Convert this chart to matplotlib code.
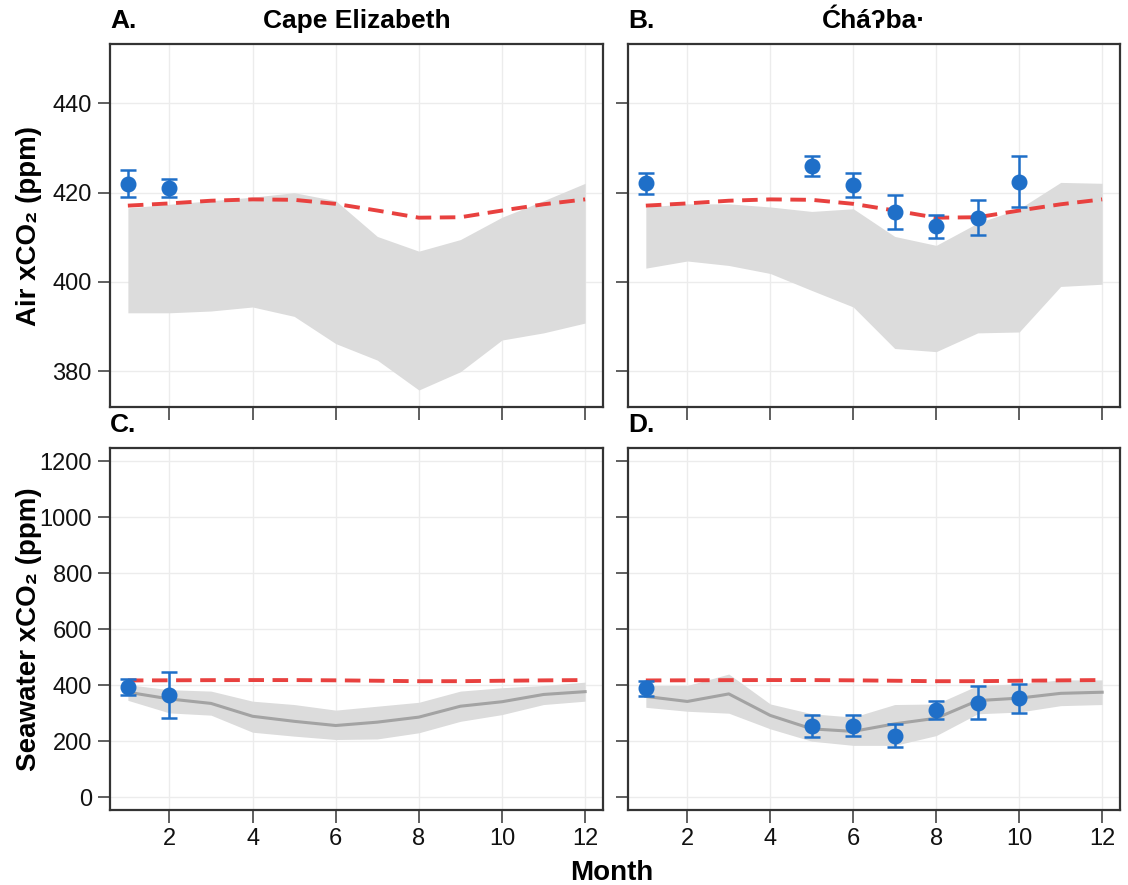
import numpy as np
import matplotlib
matplotlib.use("Agg")
from matplotlib import pyplot as plt

plt.rcParams['font.family'] = ['Liberation Sans', 'DejaVu Sans']

months = np.arange(1, 13)

# atmospheric reference xCO2 (red dashed line), same for both sites
air_ref = [417.1, 417.6, 418.2, 418.5, 418.4, 417.5, 416.0, 414.4, 414.5, 416.0, 417.4, 418.5]

# Cape Elizabeth
cape_air_lo = [393.1, 393.1, 393.5, 394.4, 392.3, 386.2, 382.5, 375.8, 379.9, 387.0, 388.6, 390.8]
cape_air_hi = [416.6, 417.4, 418.2, 419.0, 420.0, 418.2, 410.2, 406.9, 409.5, 414.5, 418.2, 422.1]
cape_sea_mean = [375, 351, 335, 289, 271, 256, 268, 286, 325, 341, 367, 377]
cape_sea_lo = [346, 301, 293, 232, 218, 206, 208, 230, 271, 295, 331, 343]
cape_sea_hi = [402, 384, 379, 343, 331, 311, 325, 339, 379, 391, 399, 411]
cape_obs_months = [1, 2]
cape_obs_air = [422.0, 421.0]
cape_obs_air_err = [3.0, 2.0]
cape_obs_sea = [394, 366]
cape_obs_sea_err = [30, 83]

# Chaba
chaba_air_lo = [403.1, 404.7, 403.7, 401.9, 398.1, 394.4, 385.1, 384.4, 388.6, 388.8, 399.0, 399.5]
chaba_air_hi = [416.8, 417.5, 417.5, 416.8, 415.8, 416.4, 410.2, 408.2, 413.2, 416.4, 422.3, 422.1]
chaba_sea_mean = [360, 342, 369, 292, 244, 235, 262, 282, 345, 354, 371, 375]
chaba_sea_lo = [321, 307, 300, 244, 200, 185, 185, 220, 298, 304, 327, 331]
chaba_sea_hi = [399, 399, 440, 333, 298, 286, 331, 333, 399, 405, 419, 419]
chaba_obs_months = [1, 5, 6, 7, 8, 9, 10]
chaba_obs_air = [422.1, 426.0, 421.7, 415.6, 412.5, 414.4, 422.5]
chaba_obs_air_err = [2.3, 2.3, 2.7, 3.8, 2.6, 3.9, 5.7]
chaba_obs_sea = [389, 254, 255, 220, 310, 338, 354]
chaba_obs_sea_err = [27, 39, 37, 40, 32, 60, 52]

BLUE = '#1f6fc8'
RED = '#e8413f'
BAND = '#dcdcdc'
LINE = '#a3a3a3'
SPINE = '#333333'

fig = plt.figure(figsize=(11.28, 8.85), dpi=100)
W, H = 1128, 885


def box(x0, y0, x1, y1):
    return [x0 / W, 1 - y1 / H, (x1 - x0) / W, (y1 - y0) / H]


axA = fig.add_axes(box(110, 44, 603, 407))
axB = fig.add_axes(box(628, 44, 1120, 407))
axC = fig.add_axes(box(110, 448, 603, 810))
axD = fig.add_axes(box(628, 448, 1120, 810))


def style(ax, ylim, yticks, xlabels, ylabels):
    ax.set_xlim(0.57, 12.43)
    ax.set_ylim(*ylim)
    ax.set_xticks([2, 4, 6, 8, 10, 12])
    ax.set_yticks(yticks)
    ax.grid(True, color='#ececec', lw=1.0, zorder=0)
    ax.set_axisbelow(True)
    for s in ax.spines.values():
        s.set_color(SPINE)
        s.set_linewidth(1.6)
    ax.tick_params(direction='out', length=9, width=1.2, color='#444444',
                   labelsize=17, pad=4, labelcolor='#111111')
    if not xlabels:
        ax.set_xticklabels([])
    if not ylabels:
        ax.set_yticklabels([])


def obs(ax, x, y, err):
    ax.errorbar(x, y, yerr=err, fmt='o', color=BLUE, ms=10.5, elinewidth=1.8,
                capsize=6, capthick=1.8, zorder=5)


# air panels
for ax, lo, hi, ox, oy, oe in [
        (axA, cape_air_lo, cape_air_hi, cape_obs_months, cape_obs_air, cape_obs_air_err),
        (axB, chaba_air_lo, chaba_air_hi, chaba_obs_months, chaba_obs_air, chaba_obs_air_err)]:
    ax.fill_between(months, lo, hi, color=BAND, lw=0, zorder=1)
    ax.plot(months, air_ref, color=RED, lw=2.8, dashes=(4, 2.2), zorder=3)
    obs(ax, ox, oy, oe)

# seawater panels
for ax, mean, lo, hi, ox, oy, oe in [
        (axC, cape_sea_mean, cape_sea_lo, cape_sea_hi, cape_obs_months, cape_obs_sea, cape_obs_sea_err),
        (axD, chaba_sea_mean, chaba_sea_lo, chaba_sea_hi, chaba_obs_months, chaba_obs_sea, chaba_obs_sea_err)]:
    ax.fill_between(months, lo, hi, color=BAND, lw=0, zorder=1)
    ax.plot(months, mean, color=LINE, lw=2.2, zorder=2)
    ax.plot(months, air_ref, color=RED, lw=2.8, dashes=(4, 2.2), zorder=3)
    obs(ax, ox, oy, oe)

style(axA, (372, 453.3), [380, 400, 420, 440], False, True)
style(axB, (372, 453.3), [380, 400, 420, 440], False, False)
style(axC, (-46, 1248), [0, 200, 400, 600, 800, 1000, 1200], True, True)
style(axD, (-46, 1248), [0, 200, 400, 600, 800, 1000, 1200], True, False)

# panel letters and site titles
for ax, letter in [(axA, 'A.'), (axB, 'B.'), (axC, 'C.'), (axD, 'D.')]:
    ax.text(0.0, 1.03, letter, transform=ax.transAxes, ha='left', va='bottom',
            fontsize=19, fontweight='bold')
axA.text(0.5, 1.03, 'Cape Elizabeth', transform=axA.transAxes, ha='center',
         va='bottom', fontsize=19, fontweight='bold')
axB.text(0.5, 1.03, 'Ćháʔba·', transform=axB.transAxes, ha='center',
         va='bottom', fontsize=19, fontweight='bold')

axA.set_ylabel('Air xCO₂ (ppm)', fontsize=20, fontweight='bold')
axC.set_ylabel('Seawater xCO₂ (ppm)', fontsize=20, fontweight='bold')
for ax in (axA, axC):
    ax.yaxis.set_label_coords(-0.138, 0.5)
fig.text(612 / W, 1 - 873 / H, 'Month', ha='center', va='center',
         fontsize=20, fontweight='bold')

fig.savefig('out.png', dpi=100)
